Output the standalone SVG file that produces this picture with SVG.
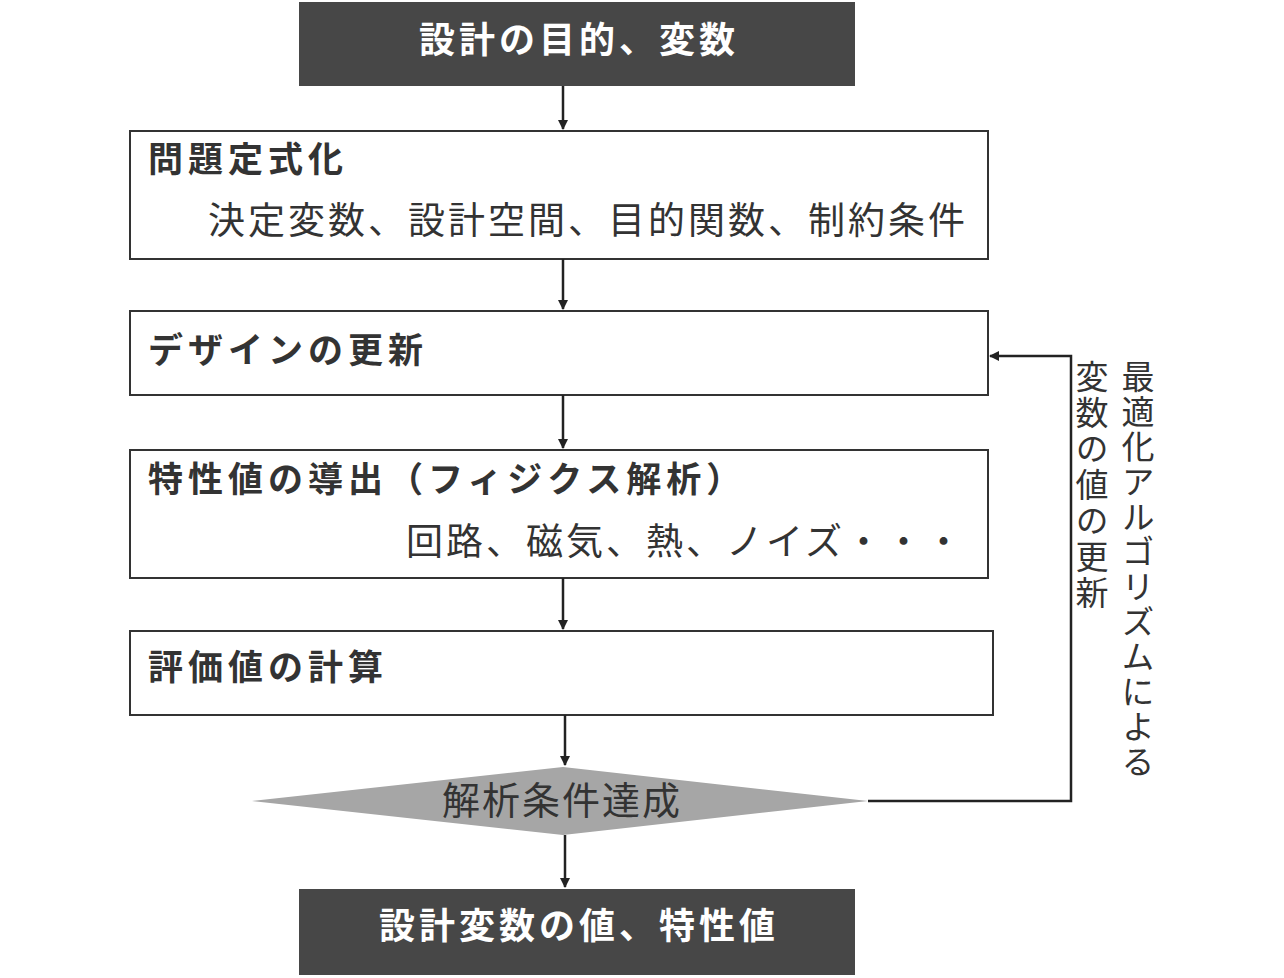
<svg xmlns="http://www.w3.org/2000/svg" width="1284" height="978" viewBox="0 0 1284 978">
<style>
text{font-family:"Noto Sans CJK JP","Noto Sans CJK SC",sans-serif;}
.dark{fill:#474747;}
.box{fill:#fff;stroke:#333;stroke-width:2;}
.wt{fill:#fff;font-size:36px;font-weight:bold;letter-spacing:4px;}
.bt{fill:#333;font-size:35px;font-weight:bold;letter-spacing:5px;}
.nt{fill:#333;font-size:37px;letter-spacing:3px;}
.ln{stroke:#222;stroke-width:2.5;fill:none;}
.vt{fill:#333;font-size:33px;writing-mode:vertical-rl;letter-spacing:2px;}
</style>
<defs><marker id="ah" markerWidth="10" markerHeight="10" refX="9" refY="5" orient="auto" markerUnits="userSpaceOnUse" viewBox="0 0 10 10"><path d="M0,0L10,5L0,10z" fill="#222"/></marker></defs>
<g id="n1"><rect class="dark" x="299" y="2" width="556" height="84"/><text class="wt" x="579" y="53" text-anchor="middle">設計の目的、変数</text></g>
<g id="n2"><rect class="box" x="130" y="131" width="858" height="128"/><text class="bt" x="148" y="172">問題定式化</text><text class="nt" x="968" y="234" text-anchor="end">決定変数、設計空間、目的関数、制約条件</text></g>
<g id="n3"><rect class="box" x="130" y="311" width="858" height="84"/><text class="bt" x="148" y="363">デザインの更新</text></g>
<g id="n4"><rect class="box" x="130" y="450" width="858" height="128"/><text class="bt" x="148" y="492">特性値の導出（フィジクス解析）</text><text class="nt" x="965" y="555" text-anchor="end">回路、磁気、熱、ノイズ・・・</text></g>
<g id="n5"><rect class="box" x="130" y="631" width="863" height="84"/><text class="bt" x="148" y="680">評価値の計算</text></g>
<g id="n6"><polygon points="252,801 563,767 868,801 563,835" fill="#a6a6a6"/><text x="562" y="814" text-anchor="middle" style="font-size:38px;fill:#333;letter-spacing:2px">解析条件達成</text></g>
<g id="n7"><rect class="dark" x="299" y="889" width="556" height="86"/><text class="wt" x="579" y="939" text-anchor="middle">設計変数の値、特性値</text></g>
<g id="label"><text class="vt" x="1138" y="360">最適化アルゴリズムによる</text><text class="vt" x="1092" y="360" style="letter-spacing:3px">変数の値の更新</text></g>
<g id="connectors">
<line class="ln" x1="563" y1="86" x2="563" y2="129" marker-end="url(#ah)"/>
<line class="ln" x1="563" y1="259" x2="563" y2="309" marker-end="url(#ah)"/>
<line class="ln" x1="563" y1="395" x2="563" y2="448" marker-end="url(#ah)"/>
<line class="ln" x1="563" y1="578" x2="563" y2="629" marker-end="url(#ah)"/>
<line class="ln" x1="565" y1="715" x2="565" y2="765" marker-end="url(#ah)"/>
<line class="ln" x1="565" y1="835" x2="565" y2="887" marker-end="url(#ah)"/>
<polyline class="ln" points="868,801 1071,801 1071,356 990,356" marker-end="url(#ah)"/>
</g>
</svg>
